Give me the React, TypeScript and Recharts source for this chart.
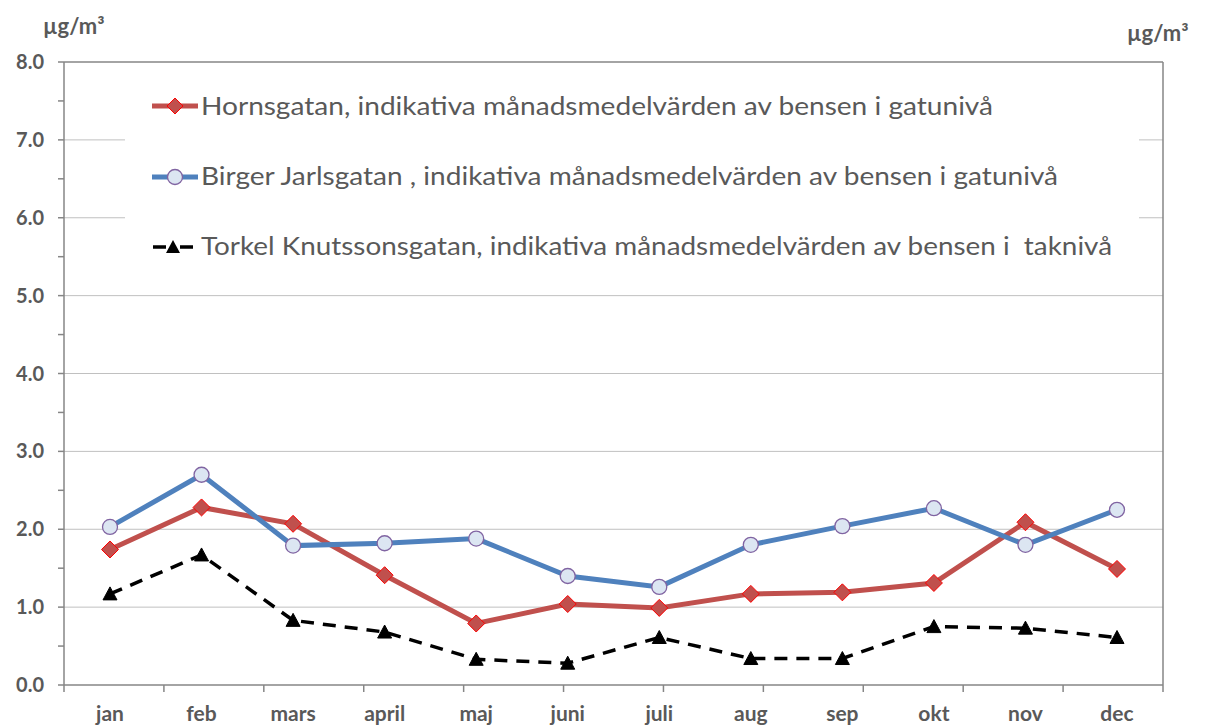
import React from 'react';
import { LineChart, Line, XAxis, YAxis, CartesianGrid, Legend, ReferenceLine } from 'recharts';

const months = ['jan', 'feb', 'mars', 'april', 'maj', 'juni', 'juli', 'aug', 'sep', 'okt', 'nov', 'dec'];
const hornsgatan = [1.74, 2.28, 2.07, 1.41, 0.79, 1.04, 0.99, 1.17, 1.19, 1.31, 2.09, 1.49];
const birgerJarlsgatan = [2.03, 2.70, 1.79, 1.82, 1.88, 1.40, 1.26, 1.80, 2.04, 2.27, 1.80, 2.25];
const torkelKnutssonsgatan = [1.17, 1.67, 0.83, 0.68, 0.33, 0.28, 0.61, 0.34, 0.34, 0.75, 0.73, 0.61];

const yTicks = [0, 0.5, 1, 1.5, 2, 2.5, 3, 3.5, 4, 4.5, 5, 5.5, 6, 6.5, 7, 7.5, 8];
const gridValues = [1, 2, 3, 4, 5, 6, 7];
const boundaryTicks = [0, 1, 2, 3, 4, 5, 6, 7, 8, 9, 10, 11, 12];
const unitLabel = 'µg/m³';

const seriesNames = [
  'Hornsgatan, indikativa månadsmedelvärden av bensen i gatunivå',
  'Birger Jarlsgatan , indikativa månadsmedelvärden av bensen i gatunivå',
  'Torkel Knutssonsgatan, indikativa månadsmedelvärden av bensen i  taknivå',
];
const legendTextWidths = [792, 857, 911];

const data = months.map((m, i) => ({
  month: m,
  horns: hornsgatan[i],
  birger: birgerJarlsgatan[i],
  torkel: torkelKnutssonsgatan[i],
}));

const FONT = 'Lato, "Open Sans", sans-serif';
const TXT = '#595959';
const AXIS = '#868686';
const RED = '#C0504D';
const BLUE = '#4F81BD';

const diamondPath = (cx: number, cy: number, r: number) =>
  `M${cx},${cy - r}L${cx + r},${cy}L${cx},${cy + r}L${cx - r},${cy}Z`;
const trianglePath = (cx: number, cy: number) =>
  `M${cx},${cy - 7}L${cx + 7},${cy + 6}L${cx - 7},${cy + 6}Z`;

const DiamondDot = (p: any) => {
  const { cx, cy, index } = p;
  if (cx == null || cy == null) return <g key={`d-${index}`} />;
  return <path key={`d-${index}`} d={diamondPath(cx, cy, 8.5)} fill={RED} stroke="#FF0000" strokeWidth={1} />;
};
const CircleDot = (p: any) => {
  const { cx, cy, index } = p;
  if (cx == null || cy == null) return <g key={`c-${index}`} />;
  return <circle key={`c-${index}`} cx={cx} cy={cy} r={7.5} fill="#DCE6F2" stroke="#8064A2" strokeWidth={1.3} />;
};
const TriangleDot = (p: any) => {
  const { cx, cy, index } = p;
  if (cx == null || cy == null) return <g key={`t-${index}`} />;
  return <path key={`t-${index}`} d={trianglePath(cx, cy)} fill="#000" stroke="#000" strokeWidth={1} />;
};

const LegendContent = () => {
  const rowsY = [31, 102, 172];
  const baseY = [40, 110, 180];
  return (
    <svg width={1014} height={195} style={{ display: 'block', background: '#fff' }}>
      {seriesNames.map((name, i) => (
        <g key={name}>
          {i === 0 && (
            <>
              <line x1={27} x2={73} y1={rowsY[i]} y2={rowsY[i]} stroke={RED} strokeWidth={5} />
              <path d={diamondPath(50, rowsY[i], 8)} fill={RED} stroke="#FF0000" strokeWidth={1} />
            </>
          )}
          {i === 1 && (
            <>
              <line x1={27} x2={73} y1={rowsY[i]} y2={rowsY[i]} stroke={BLUE} strokeWidth={5} />
              <circle cx={50} cy={rowsY[i]} r={7.5} fill="#DCE6F2" stroke="#8064A2" strokeWidth={1.3} />
            </>
          )}
          {i === 2 && (
            <>
              <line x1={28} x2={68} y1={rowsY[i]} y2={rowsY[i]} stroke="#000" strokeWidth={3.5} strokeDasharray="13 14" />
              <path d={trianglePath(48, rowsY[i])} fill="#000" />
            </>
          )}
          <text
            x={76}
            y={baseY[i]}
            fontFamily={FONT}
            fontSize={25}
            fill={TXT}
            textLength={legendTextWidths[i]}
            lengthAdjust="spacingAndGlyphs"
            style={{ whiteSpace: 'pre' }}
          >
            {name}
          </text>
        </g>
      ))}
    </svg>
  );
};

const fmt = (v: number) => (Number.isInteger(v) ? v.toFixed(1) : '');

export default function App() {
  const yTickStyle = { fill: TXT, fontSize: 20, fontWeight: 700, fontFamily: FONT };
  const xTickStyle = { fill: TXT, fontSize: 21, fontWeight: 700, fontFamily: FONT };
  return (
    <div style={{ position: 'absolute', left: 0, top: 0, width: 1219, height: 726, background: '#fff' }}>
      <LineChart width={1219} height={726} data={data} margin={{ top: 62, right: 0, bottom: 0, left: 0 }}>
        <CartesianGrid
          xAxisId="b"
          yAxisId="l"
          vertical={false}
          horizontalValues={gridValues}
          stroke="#C0C0C0"
          strokeWidth={1}
        />
        <XAxis
          xAxisId="b"
          type="number"
          domain={[0, 12]}
          ticks={boundaryTicks}
          height={8}
          tickSize={7}
          tickFormatter={() => ''}
          axisLine={{ stroke: AXIS, strokeWidth: 1.5 }}
          tickLine={{ stroke: AXIS, strokeWidth: 1.5 }}
        />
        <XAxis
          xAxisId="c"
          dataKey="month"
          height={33}
          padding={{ left: 46, right: 46 }}
          axisLine={false}
          tickLine={false}
          tickSize={0}
          tickMargin={13}
          tick={xTickStyle}
          interval={0}
        />
        <YAxis
          yAxisId="l"
          orientation="left"
          width={64}
          domain={[0, 8]}
          ticks={yTicks}
          interval={0}
          tickFormatter={fmt}
          tickSize={6}
          tickMargin={14}
          tick={yTickStyle}
          axisLine={{ stroke: AXIS, strokeWidth: 1.5 }}
          tickLine={{ stroke: AXIS, strokeWidth: 1.5 }}
        />
        <YAxis
          yAxisId="r"
          orientation="right"
          width={56}
          domain={[0, 8]}
          ticks={yTicks}
          interval={0}
          tickFormatter={fmt}
          tickSize={7}
          tickMargin={14}
          tick={yTickStyle}
          axisLine={{ stroke: AXIS, strokeWidth: 1.5 }}
          tickLine={{ stroke: AXIS, strokeWidth: 1.5 }}
        />
        <ReferenceLine xAxisId="b" yAxisId="l" y={8} stroke={AXIS} strokeWidth={1.5} />
        <Legend
          layout="vertical"
          align="center"
          verticalAlign="middle"
          wrapperStyle={{ left: 125, top: 75, width: 1014, height: 195 }}
          content={() => <LegendContent />}
        />
        <Line
          xAxisId="c"
          yAxisId="l"
          dataKey="horns"
          name={seriesNames[0]}
          stroke={RED}
          strokeWidth={5}
          dot={DiamondDot}
          activeDot={false}
          isAnimationActive={false}
        />
        <Line
          xAxisId="c"
          yAxisId="l"
          dataKey="birger"
          name={seriesNames[1]}
          stroke={BLUE}
          strokeWidth={5}
          dot={CircleDot}
          activeDot={false}
          isAnimationActive={false}
        />
        <Line
          xAxisId="c"
          yAxisId="l"
          dataKey="torkel"
          name={seriesNames[2]}
          stroke="#000"
          strokeWidth={3.5}
          strokeDasharray="13 9"
          dot={TriangleDot}
          activeDot={false}
          isAnimationActive={false}
        />
      </LineChart>
      <div
        style={{
          position: 'absolute', left: 43, top: 12, fontFamily: FONT, fontWeight: 700,
          fontSize: 22, color: TXT, lineHeight: '28px', whiteSpace: 'nowrap',
        }}
      >
        {unitLabel}
      </div>
      <div
        style={{
          position: 'absolute', left: 1127, top: 19, fontFamily: FONT, fontWeight: 700,
          fontSize: 22, color: TXT, lineHeight: '28px', whiteSpace: 'nowrap',
        }}
      >
        {unitLabel}
      </div>
    </div>
  );
}
